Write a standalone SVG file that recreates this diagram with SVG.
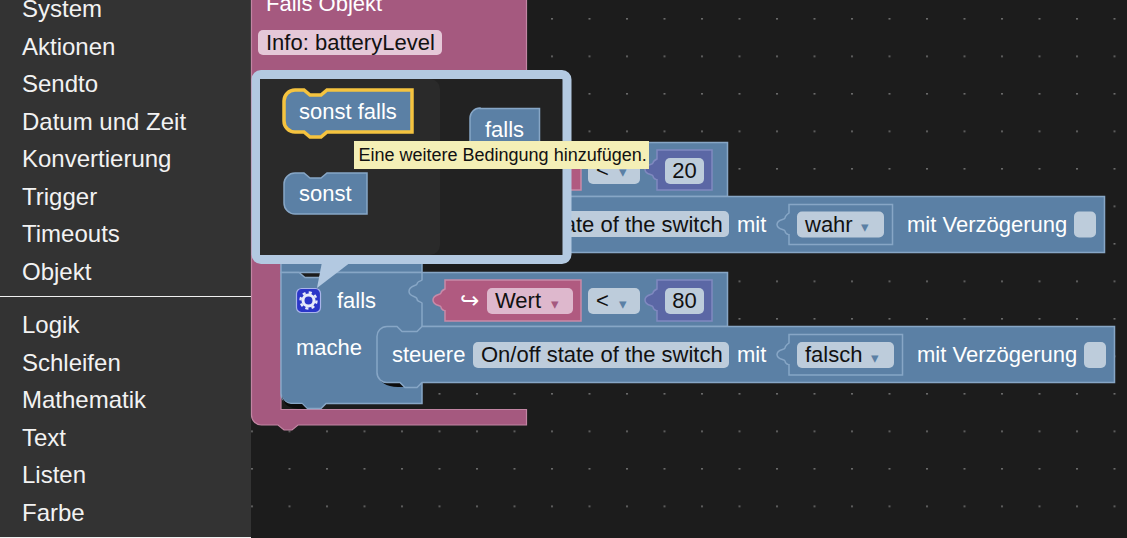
<svg xmlns="http://www.w3.org/2000/svg" width="1127" height="538" viewBox="0 0 1127 538">
<style>
text{font-family:"Liberation Sans",Arial,sans-serif}
.m{font-size:24px;fill:#f2f2f2}
.w{font-size:22px;fill:#fff}
.k{font-size:22px;fill:#111}
.b{fill:#5b80a5;stroke:#87a6c6;stroke-width:1.5}
.n{fill:none;stroke:#87a6c6;stroke-width:1.5}
.f{fill:#bdccdb}
.pf{fill:#deb8cd}
.d{font-family:"DejaVu Sans",sans-serif;font-size:15px;fill:#5b80a5}
.sh{fill:#0c0c0c}
</style>
<defs>
<pattern id="grid" x="251" y="18" width="37.5" height="37.5" patternUnits="userSpaceOnUse"><rect x="0" y="0" width="2" height="1.6" fill="#6a6a6a"/></pattern>
</defs>
<rect width="1127" height="538" fill="#1c1c1c"/>
<rect width="1127" height="538" fill="url(#grid)"/>
<g id="menu">
<rect width="251" height="538" fill="#333"/>
<rect x="0" y="296" width="251" height="1" fill="#f0f0f0"/>
<rect x="0" y="537" width="251" height="1" fill="#f0f0f0"/>
<text class="m" x="22" y="17">System</text>
<text class="m" x="22" y="55">Aktionen</text>
<text class="m" x="22" y="92">Sendto</text>
<text class="m" x="22" y="130">Datum und Zeit</text>
<text class="m" x="22" y="167">Konvertierung</text>
<text class="m" x="22" y="205">Trigger</text>
<text class="m" x="22" y="242">Timeouts</text>
<text class="m" x="22" y="280">Objekt</text>
<text class="m" x="22" y="333">Logik</text>
<text class="m" x="22" y="371">Schleifen</text>
<text class="m" x="22" y="408">Mathematik</text>
<text class="m" x="22" y="446">Text</text>
<text class="m" x="22" y="483">Listen</text>
<text class="m" x="22" y="521">Farbe</text>
</g>
<g id="falls-objekt">
<path d="M251.5,-2 H526.5 V100 H281 V409.5 H526.5 V425 H298 l-6,5 h-8 l-6,-5 H262 a10,10 0 0 1 -10.500,-10 Z" fill="#a5597f" stroke="#c285a3" stroke-width="1.2"/>
<text class="w" x="266" y="11">Falls Objekt</text>
<rect x="258" y="30" width="184" height="25" rx="5" fill="#e5c8d8"/>
<text class="k" x="266" y="50">Info: batteryLevel</text>
</g>
<g id="if-1">
<path class="b" d="M291,142.500 H727.500 V196.500 H422 V272.500 H281 V152 a10,10 0 0 1 10,-10 Z"/>
<path d="M433,150 H581 V190 H433 Z" fill="#b05a80" stroke="#c88aa8" stroke-width="1.500"/>
<rect x="588" y="158" width="52" height="26" rx="5" class="f"/>
<text class="k" x="596" y="177">&lt;</text>
<text class="d" x="619" y="177">▾</text>
<path d="M657,150 H712 V190 H657 V179 C657,180 653,179 653,176 C653,174 645,175 645,169.500 C645,164 653,165 653,163 C653,161 657,159 657,159 Z" fill="#5b67a5" stroke="#8089c0" stroke-width="1.500"/>
<rect x="665" y="158" width="39" height="26" rx="5" class="f"/>
<text class="k" x="684.500" y="178" text-anchor="middle">20</text>
</g>
<g id="steuere-1">
<path class="b" d="M387,196.500 H1104.500 V252.500 H387 a10,10 0 0 1 -10,-10 V206 a10,10 0 0 1 10,-10 Z"/>
<rect x="473" y="211" width="256" height="26" rx="5" class="f"/>
<text class="k" x="481" y="232">On/off state of the switch</text>
<text class="w" x="737" y="232">mit</text>
<path class="n" d="M789,204.500 H892.500 V244.500 H789 V234 C789,235 785,234 785,231 C785,229 777,230 777,224.500 C777,219 785,220 785,218 C785,216 789,213 789,213 Z"/>
<rect x="797" y="211.500" width="87" height="26" rx="5" class="f"/>
<text class="k" x="805" y="232">wahr</text>
<text class="d" x="861" y="232">▾</text>
<text class="w" x="907" y="232">mit Verzögerung</text>
<rect x="1074" y="211.500" width="22" height="26" rx="5" class="f"/>
</g>
<g id="if-2">
<path class="b" d="M281,272.500 H299 l6,5 h14 l6,-5 H727.500 V326.500 H422 V388 V403.500 H326 l-5,5 h-14 l-5,-5 H291 a10,10 0 0 1 -10,-10 Z"/>
<path class="n" d="M422,272.500 V280 C422,281 417,281 417,284 C417,286 409,285 409,291.500 C409,297 417,296 417,299 C417,302 422,302 422,303 V326"/>
<path class="sh" d="M282,396 C283,405 290,409 302,409 L307,409 L302,404 H291 A10,10 0 0 1 282,396 Z"/>
<rect x="296.500" y="288.500" width="24" height="24" rx="5" fill="#2b36c8" stroke="#a9b4ea" stroke-width="1.200"/>
<circle cx="308.500" cy="300.500" r="5.500" fill="none" stroke="#e8ecfa" stroke-width="3"/>
<circle cx="308.500" cy="300.500" r="8" fill="none" stroke="#e8ecfa" stroke-width="2.400" stroke-dasharray="3.100 3.180"/>
<text class="w" x="337" y="308">falls</text>
<text class="w" x="296" y="355">mache</text>
<path d="M445,280 H581 V321 H445 V310 C445,311 441,310 441,307 C441,305 433,306 433,300 C433,294 441,295 441,293 C441,291 445,289 445,289 Z" fill="#b05a80" stroke="#c88aa8" stroke-width="1.500"/>
<text x="460" y="308" font-size="23" fill="#fff" style="font-family:'DejaVu Sans',sans-serif">↪</text>
<rect x="487" y="288" width="86" height="26" rx="5" class="pf"/>
<text class="k" x="495" y="308">Wert</text>
<text class="d" x="551" y="309" style="fill:#a5597f">▾</text>
<rect x="588" y="288" width="52" height="26" rx="5" class="f"/>
<text class="k" x="596" y="308">&lt;</text>
<text class="d" x="619" y="309">▾</text>
<path d="M657,280 H712 V321 H657 V310 C657,311 653,310 653,307 C653,305 645,306 645,300 C645,294 653,295 653,293 C653,291 657,289 657,289 Z" fill="#5b67a5" stroke="#8089c0" stroke-width="1.500"/>
<rect x="665" y="288" width="39" height="26" rx="5" class="f"/>
<text class="k" x="684.500" y="308" text-anchor="middle">80</text>
</g>
<g id="steuere-2">
<path class="sh" d="M378,373 C379,382 386,387 398,387 L405,387 L400,383 H388 A10,10 0 0 1 378,373 Z"/>
<path class="b" d="M387,326.500 H397 l5,5 h15 l5,-5 H1114.500 V382.500 H422 l-5,5 h-12 l-5,-5 H388 a10,10 0 0 1 -11,-10 V337 a10,10 0 0 1 10,-10.500 Z"/>
<text class="w" x="392" y="362">steuere</text>
<rect x="473" y="342" width="256" height="26" rx="5" class="f"/>
<text class="k" x="481" y="362">On/off state of the switch</text>
<text class="w" x="737" y="362">mit</text>
<path class="n" d="M789,334.500 H902.500 V375 H789 V364 C789,365 785,364 785,361 C785,359 777,360 777,354.500 C777,349 785,350 785,348 C785,346 789,343 789,343 Z"/>
<rect x="797" y="342" width="97" height="26" rx="5" class="f"/>
<text class="k" x="805" y="362">falsch</text>
<text class="d" x="871" y="363">▾</text>
<text class="w" x="917" y="362">mit Verzögerung</text>
<rect x="1084" y="342" width="22" height="26" rx="5" class="f"/>
</g>
<g id="bubble">
<path d="M322,262 L317,288 L351,262 Z" fill="#b3c9e1"/>
<rect x="256" y="74.500" width="311" height="185" rx="5" fill="#222" stroke="#b3c9e1" stroke-width="9"/>
<path d="M260,79 H430 a10,10 0 0 1 10,10 V245 a10,10 0 0 1 -10,10 H260 Z" fill="#2a2a2a"/>
</g>
<g id="sonst-falls">
<path d="M295,90 H304 l6,5 h11 l6,-5 H412 V132 H327 l-6,5 h-11 l-6,-5 H295 a11,11 0 0 1 -11,-11 V101 a11,11 0 0 1 11,-11 Z" fill="#5b80a5" stroke="#f5c33f" stroke-width="3.500"/>
<text class="w" x="299" y="119">sonst falls</text>
</g>
<g id="sonst">
<path d="M295,173 H304 l6,5 h11 l6,-5 H367 V214 H295 a11,11 0 0 1 -11,-11 V184 a11,11 0 0 1 11,-11 Z" class="b"/>
<text class="w" x="299" y="201">sonst</text>
</g>
<g id="falls">
<path d="M480,108.500 H539.500 V150 H470 V118 a10,10 0 0 1 10,-10 Z" class="b"/>
<text class="w" x="485" y="137">falls</text>
</g>
<g id="tooltip">
<rect x="354" y="141" width="295" height="28" fill="#f4efb6"/>
<text x="358.500" y="161" font-size="18" fill="#111">Eine weitere Bedingung hinzufügen.</text>
</g>
</svg>
